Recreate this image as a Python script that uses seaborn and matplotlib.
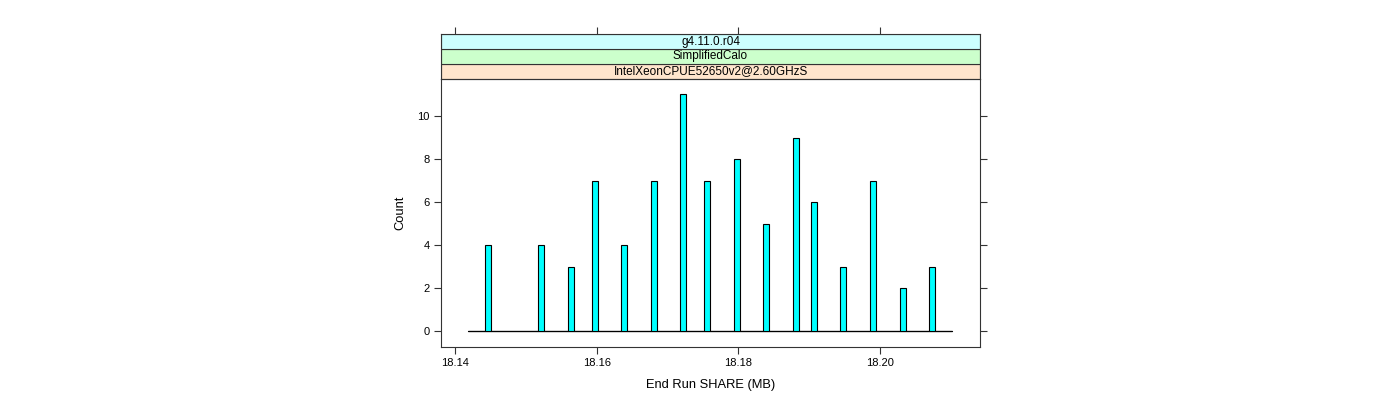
import numpy as np
import pandas as pd
import matplotlib
matplotlib.use("Agg")
import matplotlib.pyplot as plt
import seaborn as sns

# values
share_mb = [18.14466, 18.15214, 18.15637, 18.15976, 18.16385, 18.16809, 18.17218, 18.17557,
            18.17980, 18.18390, 18.18813, 18.19067, 18.19476, 18.19900, 18.20323, 18.20733]
counts = [4, 4, 3, 7, 4, 7, 11, 7, 8, 5, 9, 6, 3, 7, 2, 3]
strip_labels = ["IntelXeonCPUE52650v2@2.60GHzS", "SimplifiedCalo", "g4.11.0.r04"]
strip_colors = ["#ffe5cc", "#ccffcc", "#ccffff"]
x_ticks = [18.14, 18.16, 18.18, 18.20]
y_ticks = [0, 2, 4, 6, 8, 10]

df = pd.DataFrame({"share": share_mb, "n": counts})

sns.set_style("white")
plt.rcParams['font.family'] = ['Liberation Sans', 'DejaVu Sans']
plt.rcParams['text.color'] = 'black'
plt.rcParams['axes.labelcolor'] = 'black'
plt.rcParams['xtick.labelcolor'] = 'black'
plt.rcParams['ytick.labelcolor'] = 'black'

fig = plt.figure(figsize=(14, 4), dpi=100)
W, H = 1400, 400
ax = fig.add_axes([441 / W, 1 - 347 / H, (980 - 441) / W, (347 - 79) / H])

xlim = (18.13802, 18.2141)
lo, hi = 18.1418, 18.2101
half = 0.00042
# one narrow bin around each value, empty bins in between
edges = [lo]
for v in share_mb:
    edges += [v - half, v + half]
edges.append(hi)

ax.plot([lo, hi], [0, 0], color="black", linewidth=0.9, zorder=1)
sns.histplot(data=df, x="share", weights="n", bins=edges,
             color="#00ffff", edgecolor="black", linewidth=0.8, alpha=1, ax=ax, zorder=2)
ax.set_xlim(*xlim)
ax.set_ylim(-0.74, 11.72)
ax.set_xticks(x_ticks)
ax.set_xticklabels([f"{t:.2f}" for t in x_ticks])
ax.set_yticks(y_ticks)
ax.tick_params(axis="both", direction="out", length=5, width=0.8, color="#333333",
               labelsize=8, pad=3)
ax.tick_params(axis="y", right=True, labelright=False, left=True)
ax.tick_params(axis="x", bottom=True)
for s in ax.spines.values():
    s.set_color("#333333")
    s.set_linewidth(0.8)
ax.set_xlabel("End Run SHARE (MB)", fontsize=9.3, labelpad=8)
ax.set_ylabel("Count", fontsize=9.3, labelpad=8)

# strips
sax = fig.add_axes([441 / W, 1 - 79 / H, (980 - 441) / W, (79 - 34) / H])
sax.set_xlim(*xlim)
sax.set_ylim(0, 3)
for i, (lab, col) in enumerate(zip(strip_labels, strip_colors)):
    sax.axhspan(i, i + 1, facecolor=col, edgecolor="#333333", linewidth=0.8)
    sax.text(np.mean(xlim), i + 0.5, lab, ha="center", va="center", fontsize=8.5)
sax.set_yticks([])
sax.set_xticks(x_ticks)
sax.tick_params(axis="x", bottom=False, labelbottom=False, top=True, labeltop=False,
                direction="out", length=5, width=0.8, color="#333333")
for s in sax.spines.values():
    s.set_color("#333333")
    s.set_linewidth(0.8)

fig.savefig("out.png", dpi=100)
